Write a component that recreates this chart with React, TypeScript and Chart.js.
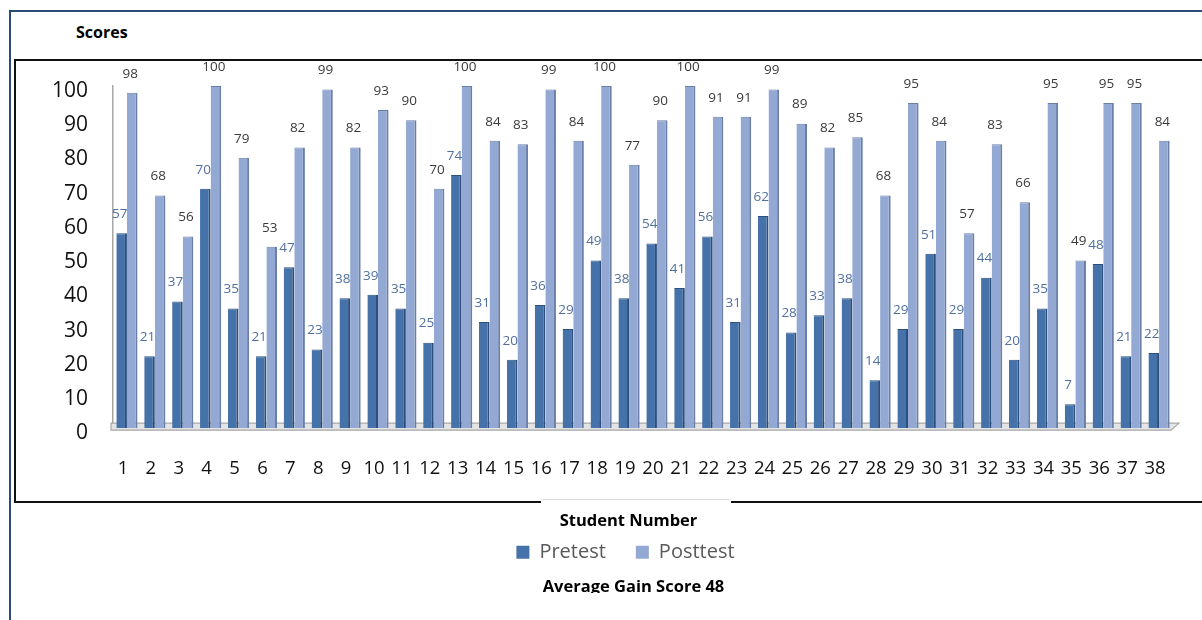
import React, { useEffect, useRef } from 'react';
import { Chart, registerables } from 'chart.js';

Chart.register(...registerables);

const STUDENTS = ['1', '2', '3', '4', '5', '6', '7', '8', '9', '10', '11', '12', '13', '14', '15', '16', '17', '18', '19', '20', '21', '22', '23', '24', '25', '26', '27', '28', '29', '30', '31', '32', '33', '34', '35', '36', '37', '38'];
const PRETEST = [57, 21, 37, 70, 35, 21, 47, 23, 38, 39, 35, 25, 74, 31, 20, 36, 29, 49, 38, 54, 41, 56, 31, 62, 28, 33, 38, 14, 29, 51, 29, 44, 20, 35, 7, 48, 21, 22];
const POSTTEST = [98, 68, 56, 100, 79, 53, 82, 99, 82, 93, 90, 70, 100, 84, 83, 99, 84, 100, 77, 90, 100, 91, 91, 99, 89, 82, 85, 68, 95, 84, 57, 83, 66, 95, 49, 95, 95, 84];
const Y_MIN = 0;
const Y_MAX = 100;
const Y_STEP = 10;
const SERIES_NAMES = ['Pretest', 'Posttest'];
const Y_TITLE = 'Scores';
const X_TITLE = 'Student Number';
const FOOTNOTE = 'Average Gain Score 48';

const FONT = "'Open Sans', 'Noto Sans', sans-serif";

const valueLabels = {
  id: 'valueLabels',
  afterDatasetsDraw(chart: any) {
    const ctx = chart.ctx;
    ctx.save();
    ctx.textAlign = 'center';
    ctx.textBaseline = 'middle';
    ctx.font = `13.5px ${FONT}`;
    chart.data.datasets.forEach((ds: any, i: number) => {
      const meta = chart.getDatasetMeta(i);
      ctx.fillStyle = i === 0 ? '#50709f' : '#3a3a3a';
      meta.data.forEach((el: any, j: number) => {
        ctx.fillText(String(ds.data[j]), el.x - 2, el.y - 19);
      });
    });
    ctx.restore();
  },
};

const floor = {
  id: 'floor3d',
  beforeDatasetsDraw(chart: any) {
    const { left, right, bottom } = chart.chartArea;
    const ctx = chart.ctx;
    ctx.save();
    ctx.beginPath();
    ctx.moveTo(left - 2, bottom - 5);
    ctx.lineTo(right + 6, bottom - 5);
    ctx.lineTo(right - 2, bottom + 2);
    ctx.lineTo(left - 2, bottom + 2);
    ctx.closePath();
    ctx.fillStyle = '#e4e4e4';
    ctx.fill();
    ctx.strokeStyle = '#a8a8a8';
    ctx.lineWidth = 1.2;
    ctx.stroke();
    ctx.restore();
  },
};

// move the bottom blocks (axis title, legend, footnote) to their place under the plot
const shiftBottomBlocks = {
  id: 'shiftBottomBlocks',
  afterLayout(chart: any) {
    for (const b of chart.boxes) {
      let dx = 0;
      if (b === chart.legend) dx = 39;
      else if (!b.axis && b.options && b.options.text === X_TITLE) dx = 42;
      else if (!b.axis && b.options && b.options.text === FOOTNOTE) dx = 47;
      if (dx) {
        b.left += dx;
        b.right += dx;
      }
    }
  },
};

export default function App() {
  const ref = useRef<HTMLCanvasElement | null>(null);

  useEffect(() => {
    if (!ref.current) return;
    const chart = new Chart(ref.current, {
      type: 'bar',
      data: {
        labels: STUDENTS,
        datasets: [
          {
            label: SERIES_NAMES[0],
            data: PRETEST,
            backgroundColor: '#4572a9',
            borderColor: '#2d4f7d',
            borderWidth: { top: 1, right: 2, left: 0, bottom: 0 },
            borderSkipped: false,
            categoryPercentage: 0.76,
            barPercentage: 1.0,
          },
          {
            label: SERIES_NAMES[1],
            data: POSTTEST,
            backgroundColor: '#93a9d3',
            borderColor: '#6a7fa8',
            borderWidth: { top: 1, right: 2, left: 0, bottom: 0 },
            borderSkipped: false,
            categoryPercentage: 0.76,
            barPercentage: 1.0,
          },
        ],
      },
      options: {
        animation: false,
        responsive: false,
        maintainAspectRatio: false,
        devicePixelRatio: 1,
        layout: { padding: { left: 0, right: 29, top: 86, bottom: 23 } },
        scales: {
          x: {
            grid: { display: false, drawTicks: false },
            border: { display: false },
            ticks: {
              font: { family: FONT, size: 18.5 },
              color: '#111',
              padding: 29,
              labelOffset: -4,
              maxRotation: 0,
              autoSkip: false,
            },
          },
          y: {
            min: Y_MIN,
            max: Y_MAX,
            grid: { display: false, drawTicks: false },
            border: { display: true, color: '#a6a6a6', width: 1.5 },
            ticks: {
              stepSize: Y_STEP,
              font: { family: FONT, size: 21 },
              color: '#111',
              padding: 25,
              labelOffset: 5,
            },
            afterFit(scale: any) {
              scale.width = 113;
            },
          },
        },
        plugins: {
          legend: {
            position: 'bottom',
            weight: 1000,
            labels: {
              boxWidth: 13,
              boxHeight: 13,
              padding: 10,
              color: '#595959',
              font: { family: FONT, size: 20 },
              generateLabels(chart: any) {
                const items = Chart.defaults.plugins.legend.labels.generateLabels(chart);
                return items.map((it: any, i: number) => ({
                  ...it,
                  text: i === 0 ? it.text + '\u2003' : it.text,
                  lineWidth: 0,
                }));
              },
            },
          },
          subtitle: {
            display: true,
            position: 'bottom',
            weight: 500,
            text: X_TITLE,
            font: { family: FONT, size: 16.5, weight: 'bold' },
            color: '#000',
            padding: { top: 3, bottom: 1 },
          },
          title: {
            display: true,
            position: 'bottom',
            weight: 2000,
            text: FOOTNOTE,
            font: { family: FONT, size: 16.5, weight: 'bold' },
            color: '#000',
            padding: { top: 5, bottom: 0 },
          },
          tooltip: { enabled: false },
        },
      },
      plugins: [floor, valueLabels, shiftBottomBlocks],
    } as any);
    return () => chart.destroy();
  }, []);

  return (
    <div style={{ position: 'absolute', left: 0, top: 0, width: 1202, height: 620, overflow: 'hidden', background: '#fff' }}>
      {/* outer frame */}
      <div style={{ position: 'absolute', left: 9, top: 10, width: 1300, height: 700, borderLeft: '2px solid #2a4a78', borderTop: '2px solid #2a4a78' }} />
      {/* inner plot frame */}
      <div style={{ position: 'absolute', left: 14, top: 59, width: 1300, height: 440, border: '2px solid #111' }} />
      {/* gap behind axis title */}
      <div style={{ position: 'absolute', left: 541, top: 499, width: 190, height: 4, background: '#fff', borderTop: '1px solid #dcdcdc' }} />
      <div style={{ position: 'absolute', left: 76, top: 22, fontFamily: FONT, fontWeight: 'bold', fontSize: 16, color: '#000', lineHeight: '20px' }}>{Y_TITLE}</div>
      <canvas ref={ref} width={1202} height={620} style={{ position: 'absolute', left: 0, top: 0, width: 1202, height: 620 }} />
      {/* bottom clip of the footnote, as in the source image */}
      <div style={{ position: 'absolute', left: 13, top: 593, width: 1200, height: 40, background: '#fff', zIndex: 2 }} />
    </div>
  );
}
